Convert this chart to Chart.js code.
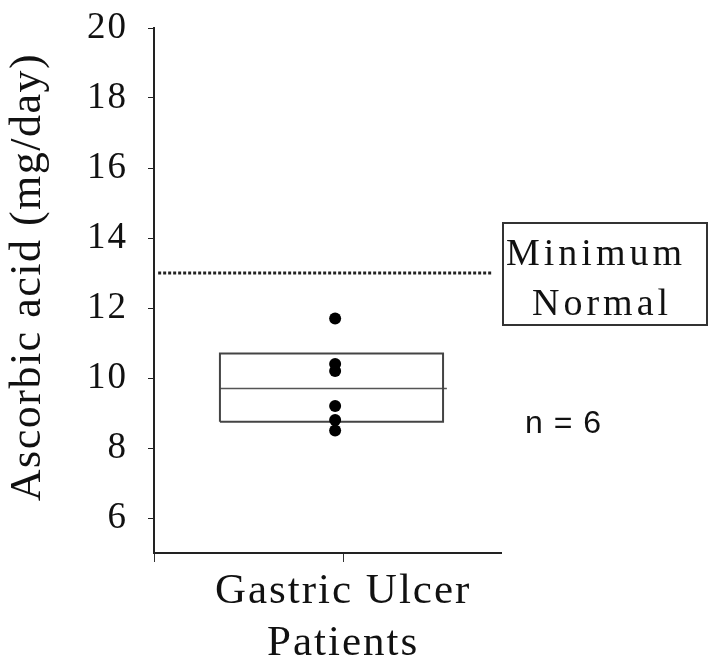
<!DOCTYPE html>
<html>
<head>
<meta charset="utf-8">
<script src="https://cdn.jsdelivr.net/npm/chart.js@4.4.1/dist/chart.umd.min.js"></script>
<style>
  html, body { margin: 0; padding: 0; background: #fff; }
  #wrap { width: 720px; height: 666px; }
</style>
</head>
<body>
<div id="wrap"><canvas id="ulcerChart" width="720" height="666"></canvas></div>
<script>
// data
const groupLabel = ['Gastric Ulcer', 'Patients'];
const yTickValues = [6, 8, 10, 12, 14, 16, 18, 20];
const patientValues = [11.7, 10.4, 10.2, 9.2, 8.8, 8.5];
const boxStats = [8.75, 9.7, 10.7]; // q1, median, q3
const minimumNormal = 13;
const yTitle = 'Ascorbic acid (mg/day)';
const refLabel = ['Minimum', 'Normal'];
const sampleLabel = 'n = 6';

// x positions on a 0..10 linear scale
const GROUP_X = 5.22;
const TICK_X = 5.45;
const BOX_LEFT = 1.9;
const BOX_RIGHT = 8.33;
const MEDIAN_RIGHT = 8.44;
const REF_START = 0.12;
const REF_END = 9.77;

const SERIF = '"Liberation Serif", "Times New Roman", serif';
const SANS = '"Liberation Sans", Arial, sans-serif';

const [q1, median, q3] = boxStats;

const textPlugin = {
  id: 'texts',
  beforeDraw(chart) {
    chart.ctx.letterSpacing = '2px';
  },
  afterDraw(chart) {
    const ctx = chart.ctx;
    ctx.save();
    ctx.fillStyle = '#111';

    // y axis title, drawn by hand so it sits where the original does
    ctx.save();
    ctx.translate(28, 277);
    ctx.rotate(-Math.PI / 2);
    ctx.font = '44px ' + SERIF;
    ctx.letterSpacing = '1.5px';
    ctx.textAlign = 'center';
    ctx.textBaseline = 'middle';
    ctx.fillText(yTitle, 0, 0);
    ctx.restore();

    // reference label box
    ctx.strokeStyle = '#333';
    ctx.lineWidth = 2;
    ctx.strokeRect(503, 223, 204, 102);
    ctx.textBaseline = 'alphabetic';
    ctx.textAlign = 'left';
    ctx.font = '38px ' + SERIF;
    ctx.letterSpacing = '4px';
    ctx.fillText(refLabel[0], 506, 265);
    ctx.fillText(refLabel[1], 532, 315);

    // sample size
    ctx.font = '32px ' + SANS;
    ctx.letterSpacing = '1px';
    ctx.fillText(sampleLabel, 525, 433);
    ctx.restore();
  },
};

const ctx = document.getElementById('ulcerChart').getContext('2d');

const config = {
  type: 'scatter',
  data: {
    datasets: [
      {
        label: 'Patients',
        data: patientValues.map((v) => ({ x: GROUP_X, y: v })),
        pointRadius: 6,
        pointBackgroundColor: '#000',
        pointBorderWidth: 0,
        order: 0,
      },
      {
        label: 'Box',
        data: [
          { x: BOX_LEFT, y: q1 },
          { x: BOX_RIGHT, y: q1 },
          { x: BOX_RIGHT, y: q3 },
          { x: BOX_LEFT, y: q3 },
          { x: BOX_LEFT, y: q1 },
        ],
        showLine: true,
        borderColor: '#444',
        borderWidth: 2,
        pointRadius: 0,
        tension: 0,
        order: 1,
      },
      {
        label: 'Median',
        data: [
          { x: BOX_LEFT, y: median },
          { x: MEDIAN_RIGHT, y: median },
        ],
        showLine: true,
        borderColor: '#555',
        borderWidth: 1.5,
        pointRadius: 0,
        order: 1,
      },
      {
        label: 'Minimum Normal',
        data: [
          { x: REF_START, y: minimumNormal },
          { x: REF_END, y: minimumNormal },
        ],
        showLine: true,
        borderColor: '#222',
        borderWidth: 3,
        borderDash: [3, 2],
        pointRadius: 0,
        order: 2,
      },
    ],
  },
  options: {
    responsive: false,
    animation: false,
    devicePixelRatio: 1,
    layout: {
      padding: { left: 0, top: 28, right: 219, bottom: 0 },
    },
    scales: {
      x: {
        type: 'linear',
        min: 0,
        max: 10,
        afterBuildTicks: (scale) => {
          scale.ticks = [{ value: 0 }, { value: TICK_X }];
        },
        afterFit: (scale) => {
          scale.height = 113;
          scale.paddingLeft = 0;
          scale.paddingRight = 0;
        },
        ticks: {
          autoSkip: false,
          maxRotation: 0,
          padding: 4,
          color: '#111',
          font: { family: SERIF, size: 43, lineHeight: 1.2 },
          callback: (value) => (value === TICK_X ? groupLabel : ''),
        },
        grid: {
          drawOnChartArea: false,
          tickLength: 9,
          color: '#333',
        },
        border: { color: '#222', width: 2 },
      },
      y: {
        min: 5,
        max: 20,
        afterBuildTicks: (scale) => {
          scale.ticks = yTickValues.map((v) => ({ value: v }));
        },
        afterFit: (scale) => {
          scale.width = 154;
          scale.paddingTop = 0;
          scale.paddingBottom = 0;
        },
        ticks: {
          padding: 20,
          color: '#111',
          font: { family: SERIF, size: 37 },
        },
        grid: {
          drawOnChartArea: false,
          tickLength: 6,
          color: '#222',
        },
        border: { color: '#222', width: 2 },
      },
    },
    plugins: {
      legend: { display: false },
      tooltip: { enabled: false },
    },
  },
  plugins: [textPlugin],
};

new Chart(ctx, config);
</script>
</body>
</html>
